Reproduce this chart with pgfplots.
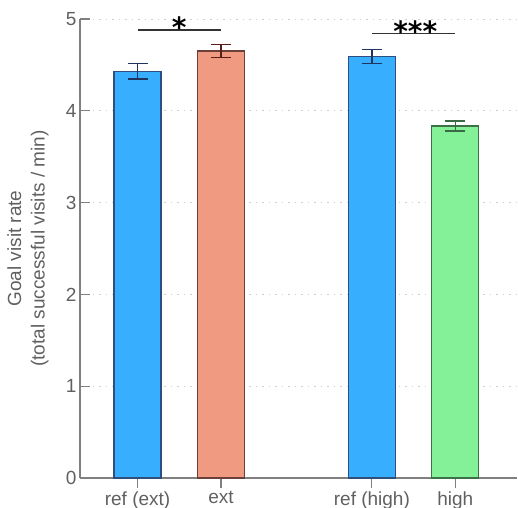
\documentclass[border=0pt]{standalone}
\usepackage{pgfplots}
\pgfplotsset{compat=1.18}
\usepackage{fontspec}
\setmainfont{Liberation Sans}
\newfontfamily\starfont{DejaVu Sans}
\definecolor{axisgray}{HTML}{808080}
\definecolor{labelgray}{HTML}{606060}
\definecolor{gridgray}{HTML}{CFCFCF}
\definecolor{bluefill}{HTML}{37AFFE}
\definecolor{blueedge}{HTML}{2E4F7E}
\definecolor{blueerr}{HTML}{1E3560}
\definecolor{salmonfill}{HTML}{F19A82}
\definecolor{salmonedge}{HTML}{6B4038}
\definecolor{salmonerr}{HTML}{5A1E18}
\definecolor{greenfill}{HTML}{84F098}
\definecolor{greenedge}{HTML}{3E7047}
\definecolor{greenerr}{HTML}{3A6A44}
\pgfplotsset{
  errstyle/.style={
    error bars/.cd, y dir=both, y explicit,
    error bar style={color=#1, line width=1.3bp},
    error mark options={rotate=90, mark size=10bp, line width=1.3bp, color=#1}
  }
}
\begin{document}
\begin{tikzpicture}[font=\fontsize{19bp}{23.5bp}\selectfont]
\useasboundingbox (-80bp,-30bp) rectangle (438bp,478bp);
\begin{axis}[
  at={(0,0)}, anchor=south west,
  scale only axis, width=437bp, height=459bp,
  xmin=0.31, xmax=5.55, ymin=0, ymax=5,
  axis lines=left,
  axis line style={-, draw=axisgray, line width=1.6bp},
  ytick={0,1,2,3,4,5},
  xtick={1,2,3.81,4.81},
  xticklabels={ref (ext), ext, ref (high), high},
  tick align=inside, major tick length=10bp,
  tick style={axisgray, line width=1.2bp},
  ymajorgrids,
  grid style={gridgray, dash pattern=on 1.5bp off 5bp, line width=1bp},
  tick label style={text=labelgray},
  /pgf/number format/assume math mode=true,
  ylabel={Goal visit rate\\(total successful visits / min)},
  ylabel style={at={(axis description cs:0,0.5)}, yshift=52bp, anchor=center, align=center, text=labelgray},
  ybar, bar width=47bp, bar shift=0pt,
  clip=false,
]
\addplot[fill=bluefill, draw=blueedge, line width=1.3bp, errstyle=blueerr]
  coordinates {(1,4.43) +- (0,0.085)};
\addplot[fill=salmonfill, draw=salmonedge, line width=1.3bp, errstyle=salmonerr]
  coordinates {(2,4.65) +- (0,0.07)};
\addplot[fill=bluefill, draw=blueedge, line width=1.3bp, errstyle=blueerr]
  coordinates {(3.81,4.59) +- (0,0.075)};
\addplot[fill=greenfill, draw=greenedge, line width=1.3bp, errstyle=greenerr]
  coordinates {(4.81,3.835) +- (0,0.055)};
\draw[line width=1.5bp, black!80] (axis cs:1,4.88) -- (axis cs:2,4.88);
\draw[line width=1.5bp, black!80] (axis cs:3.81,4.84) -- (axis cs:4.81,4.84);
\node[anchor=base, inner sep=0pt, font=\starfont\bfseries\fontsize{28bp}{28bp}\selectfont] at (axis cs:1.5,4.80) {*};
\node[anchor=base, inner sep=0pt, font=\starfont\bfseries\fontsize{28bp}{28bp}\selectfont] at (axis cs:4.33,4.755) {***};
\end{axis}
\end{tikzpicture}
\end{document}
